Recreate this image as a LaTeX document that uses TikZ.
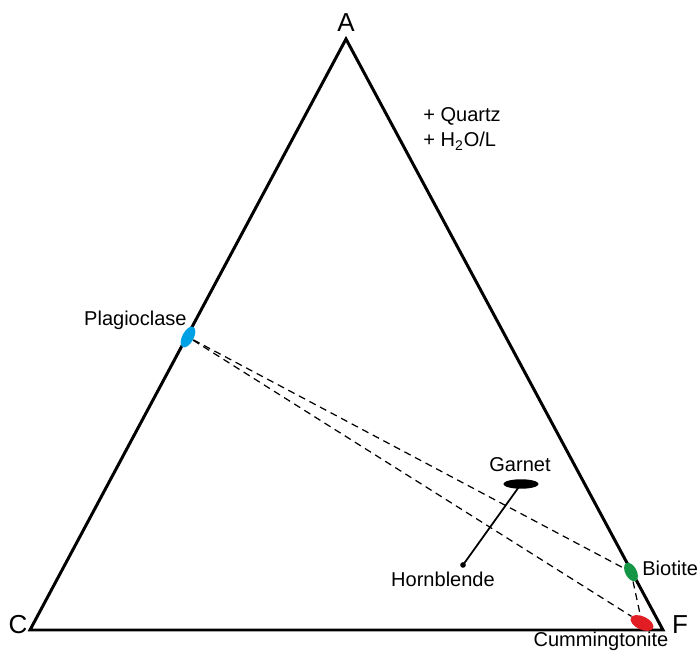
\documentclass[tikz,border=0pt]{standalone}
\usepackage{fontspec}
\setmainfont{Liberation Sans}
\usetikzlibrary{positioning,shapes.geometric}

\tikzset{
  lbl/.style={font=\fontsize{11.4}{13.7}\selectfont, inner sep=0pt},
  corner/.style={font=\fontsize{14.8}{17}\selectfont, inner sep=0pt},
  phase/.style={ellipse, draw=none, inner sep=0pt},
  tieline/.style={line width=0.7pt, dash pattern=on 4pt off 2.8pt},
}

\begin{document}
\begin{tikzpicture}[x=0.02cm, y=-0.02cm]
    \useasboundingbox (0,0) rectangle (698,652);

    % Draw the ACF triangle
    \coordinate (A) at (346,39);
    \coordinate (C) at (30,630);
    \coordinate (F) at (663,630);
    \draw[line width=1.7pt] (A) -- (C) -- (F) -- cycle;

    % Label the corners
    \node[corner] (labA) at (346,23) {A};
    \node[corner] (labC) at (18,625) {C};
    \node[corner] (labF) at (680,625) {F};

    % Excess phases
    \node[lbl, anchor=base west] (qtz) at (423,122) {+ Quartz};
    \node[lbl, anchor=base west] (fluid) at (423,147) {+ H\textsubscript{2}O/L};

    % Mineral compositions
    \node[phase, fill={rgb,255:red,0;green,160;blue,228}, minimum width=13pt, minimum height=6.5pt, rotate=62] (plag) at (188,337) {};
    \node[phase, fill=black, minimum width=20pt, minimum height=5.4pt] (grt) at (521,484) {};
    \node[phase, fill={rgb,255:red,20;green,150;blue,70}, minimum width=11.5pt, minimum height=6.5pt, rotate=-62] (bt) at (631,572) {};
    \node[phase, fill={rgb,255:red,225;green,30;blue,35}, minimum width=14pt, minimum height=7.5pt, rotate=-25] (cum) at (642,623) {};
    \node[circle, fill=black, inner sep=0pt, minimum size=3.2pt] (hbl) at (463,565) {};

    % Mineral names
    \node[lbl, anchor=base east] (plagtext) at (187,326) {Plagioclase};
    \node[lbl, anchor=base] (grttext) at (520,472) {Garnet};
    \node[lbl, anchor=base west] (bttext) at (642,576) {Biotite};
    \node[lbl, anchor=base] (cumtext) at (601,647) {Cummingtonite};
    \node[lbl, anchor=base] (hbltext) at (443,587) {Hornblende};

    % Tie lines
    \draw[tieline] (plag) -- (bt);
    \draw[tieline] (plag) -- (cum);
    \draw[tieline] (bt) -- (cum);
    \draw[line width=1pt] (grt.center) -- (hbl.center);

\end{tikzpicture}
\end{document}
